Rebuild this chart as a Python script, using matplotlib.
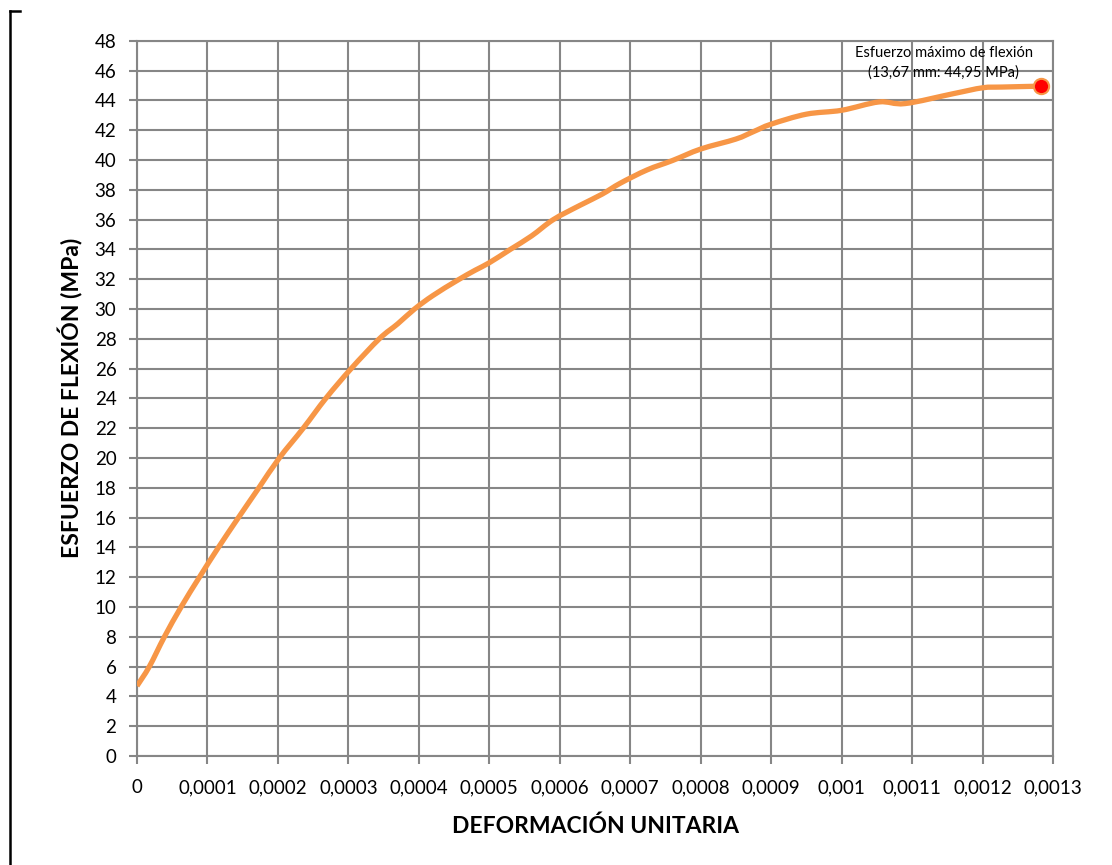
import matplotlib
matplotlib.use("Agg")
import matplotlib.pyplot as plt
from matplotlib.lines import Line2D
from matplotlib.path import Path
from matplotlib.patches import PathPatch

# Flexural test: stress vs. unit strain
strain = [0, 0.0000175, 0.0000389, 0.0000626, 0.0000886, 0.0001156,
          0.000144, 0.000173, 0.000202, 0.000236, 0.000268, 0.000304, 0.000344,
          0.00037, 0.000394, 0.00042, 0.000454, 0.00048, 0.0005, 0.00053,
          0.00056, 0.000591, 0.000629, 0.00066, 0.000686, 0.000724, 0.00076,
          0.0008, 0.00085, 0.000875, 0.0009, 0.00095, 0.001, 0.001053, 0.00109,
          0.001158, 0.0012, 0.001228, 0.0012827]
stress = [4.7, 6.0, 8.0, 10.0, 12.0, 14.0,
          16.0, 18.0, 20.0, 22.0, 24.0, 26.0, 28.0,
          29.0, 30.0, 30.9, 31.9, 32.6, 33.1, 34.0,
          34.9, 36.0, 36.96, 37.7, 38.44, 39.33, 39.96,
          40.73, 41.4, 41.9, 42.4, 43.07, 43.33, 43.89, 43.78,
          44.44, 44.84, 44.89, 44.95]

peak_strain = strain[-1]
peak_stress = stress[-1]
peak_label = "Esfuerzo máximo de flexión\n(13,67 mm: 44,95 MPa)"

x_ticks = [i * 0.0001 for i in range(14)]
x_tick_labels = ["0", "0,0001", "0,0002", "0,0003", "0,0004", "0,0005", "0,0006",
                 "0,0007", "0,0008", "0,0009", "0,001", "0,0011", "0,0012", "0,0013"]
y_ticks = list(range(0, 49, 2))

x_title = "DEFORMACIÓN UNITARIA"
y_title = "ESFUERZO DE FLEXIÓN (MPa)"

plt.rcParams["font.family"] = ["Lato", "DejaVu Sans"]

fig = plt.figure(figsize=(11.12, 8.65), dpi=100)
ax = fig.add_axes([137 / 1112, 109 / 865, 916 / 1112, 715.3 / 865])

grid_color = "#868686"
curve_color = "#F79646"

ax.set_xlim(0, 0.0013)
ax.set_ylim(0, 48)
ax.set_xticks(x_ticks)
ax.set_xticklabels(x_tick_labels)
ax.set_yticks(y_ticks)
ax.grid(True, color=grid_color, linewidth=1.5)
ax.set_axisbelow(True)
for side, sp in ax.spines.items():
    sp.set_color(grid_color)
    sp.set_linewidth(1.5)
ax.tick_params(axis="both", direction="out", length=5.8, width=1.5,
               color=grid_color, labelsize=13.5, labelcolor="black")
ax.tick_params(axis="y", pad=9)
ax.tick_params(axis="x", pad=11)


def smooth_path(xs, ys):
    """Catmull-Rom style cubic Bezier through every point (smoothed line)."""
    n = len(xs)
    verts = [(xs[0], ys[0])]
    codes = [Path.MOVETO]
    for i in range(n - 1):
        x0, y0 = (xs[i - 1], ys[i - 1]) if i > 0 else (xs[i], ys[i])
        x1, y1 = xs[i], ys[i]
        x2, y2 = xs[i + 1], ys[i + 1]
        x3, y3 = (xs[i + 2], ys[i + 2]) if i + 2 < n else (x2, y2)
        c1 = (x1 + (x2 - x0) / 6.0, y1 + (y2 - y0) / 6.0)
        c2 = (x2 - (x3 - x1) / 6.0, y2 - (y3 - y1) / 6.0)
        verts += [c1, c2, (x2, y2)]
        codes += [Path.CURVE4] * 3
    return Path(verts, codes)


ax.add_patch(PathPatch(smooth_path(strain, stress), facecolor="none",
                       edgecolor=curve_color, linewidth=3.8,
                       capstyle="butt", joinstyle="round", zorder=3))
ax.plot([peak_strain], [peak_stress], marker="o", markersize=11,
        markerfacecolor="#FF0000", markeredgecolor=curve_color,
        markeredgewidth=1.5, linestyle="none", zorder=4, clip_on=False)

ax.annotate(peak_label, xy=(peak_strain, peak_stress), xytext=(-70, 17),
            textcoords="offset points", ha="center", va="center",
            fontsize=10.5, linespacing=1.45, zorder=5)

ax.set_xlabel(x_title, fontsize=16.5, fontweight="bold", labelpad=14)
ax.set_ylabel(y_title, fontsize=16.5, fontweight="bold", labelpad=8)

# partial outer frame
fig.add_artist(Line2D([10 / 1112, 10 / 1112], [0, 1 - 11 / 865],
                      color="black", linewidth=1.8, transform=fig.transFigure))
fig.add_artist(Line2D([10 / 1112, 20 / 1112], [1 - 11 / 865, 1 - 11 / 865],
                      color="black", linewidth=1.8, transform=fig.transFigure))

fig.savefig("out.png", dpi=100)
